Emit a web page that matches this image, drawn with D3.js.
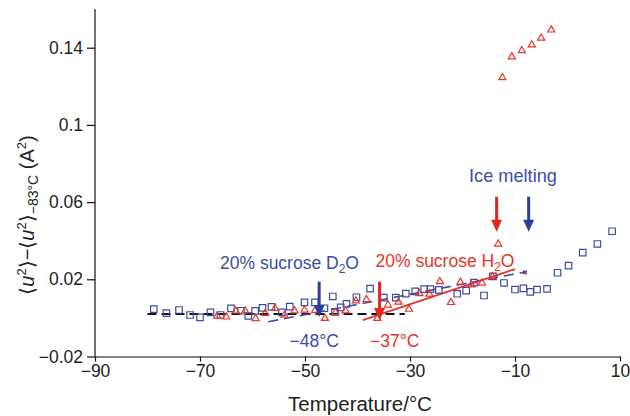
<!DOCTYPE html>
<html><head><meta charset="utf-8">
<script src="https://cdn.jsdelivr.net/npm/d3@7"></script>
<style>body{margin:0;background:#fff}svg{display:block}text{font-family:"Liberation Sans",Arial,sans-serif}</style>
</head><body>
<script>
// D2O (blue squares): temperature, value
const d2oTemp = [-78.8,-76.4,-74.0,-71.9,-70.0,-68.0,-66.1,-64.1,-62.2,-60.8,-59.5,-58.1,-56.4,-54.4,-52.9,-50.1,-48.1,-46.3,-44.7,-44.3,-43.2,-42.1,-40.2,-37.6,-35.0,-32.7,-30.8,-29.0,-27.3,-26.1,-24.5,-21.0,-19.3,-17.8,-15.9,-14.2,-12.1,-10.0,-8.4,-7.1,-5.8,-3.9,-1.9,0.2,2.9,5.7,8.5];
const d2oVal  = [0.0045,0.0025,0.0041,0.0015,0.0003,0.0029,0.0015,0.0049,0.0037,0.0010,0.0036,0.0052,0.0057,0.0029,0.0058,0.0080,0.0080,0.0050,0.0111,0.0031,0.0055,0.0073,0.0107,0.0152,0.0105,0.0105,0.0126,0.0137,0.0149,0.0149,0.0145,0.0125,0.0141,0.0183,0.0116,0.0215,0.0181,0.0147,0.0153,0.0135,0.0147,0.0150,0.0234,0.0271,0.0338,0.0383,0.0449];
// H2O (red triangles)
const h2oTemp = [-66.7,-65.0,-63.2,-61.4,-59.4,-57.6,-55.7,-53.9,-52.0,-50.1,-48.1,-46.2,-44.2,-42.3,-40.3,-38.3,-36.2,-34.2,-32.2,-30.2,-28.2,-26.3,-24.3,-22.2,-20.4,-18.3,-16.3,-14.3,-13.2,-12.4,-10.6,-8.7,-6.8,-5.0,-3.1];
const h2oVal  = [0.0010,0.0005,0.0036,0.0036,-0.0003,0.0024,0.0050,0.0015,0.0037,0.0041,0.0038,-0.0002,0.0028,0.0037,0.0088,0.0095,-0.0002,0.0067,0.0082,0.0045,0.0126,0.0123,0.0188,0.0080,0.0185,0.0171,0.0181,0.0214,0.0383,0.1245,0.1353,0.1385,0.1415,0.1450,0.1492];
// fit lines
const baseLine = [[-80,0.0020],[-31,0.0020]];
const d2oFit = [[-57.0,-0.0020],[-8.1,0.0238]];
const h2oFit = [[-39.0,-0.0011],[-10.0,0.0253]];
const purpleMark = [[-8.1,0.0236]];
// arrows: x, top, tip
const arrowX   = [-47.3,-35.8,-13.5,-7.4];
const arrowTop = [0.0188,0.0188,0.0628,0.0628];
const arrowTip = [0.0005,-0.0011,0.0447,0.0447];
const arrowCol = ["blue","red","red","blue"];
const xTicks = [-90,-70,-50,-30,-10,10];
const yTicks = [-0.02,0.02,0.06,0.1,0.14];

const W=630,H=416;
const BLUE="#3a4ea4", RED="#e6352b", DBLUE="#2c3f9c", DRED="#e3271f";
const svg=d3.select("body").append("svg").attr("width",W).attr("height",H);
const x=d3.scaleLinear().domain([-90,10]).range([95,620]);
const y=d3.scaleLinear().domain([-0.02,0.16]).range([356.5,9.1]);

// axes
const xa=svg.append("g").attr("transform",`translate(0,${y(-0.02)})`)
  .call(d3.axisBottom(x).tickValues(xTicks).tickFormat(d3.format("d")).tickSize(5).tickSizeOuter(0).tickPadding(3));
const ya=svg.append("g").attr("transform",`translate(${x(-90)},0)`)
  .call(d3.axisLeft(y).tickValues(yTicks).tickFormat(d3.format("~g")).tickSize(8).tickSizeOuter(0).tickPadding(4));
[xa,ya].forEach(g=>{g.selectAll("path,line").attr("stroke","#111").attr("stroke-width",1.2);
  g.selectAll("text").attr("font-size",17.5).attr("fill","#222").attr("font-family",'"Liberation Sans",Arial,sans-serif');});
ya.select(".domain").attr("d",`M0,${y(0.16)}V${y(-0.02)}`);

// axis titles
svg.append("text").attr("x",360).attr("y",411).attr("text-anchor","middle").attr("font-size",20.5).attr("fill","#222").text("Temperature/°C");
const yl=svg.append("text").attr("transform","translate(34,215) rotate(-90)").attr("text-anchor","middle").attr("font-size",20).attr("fill","#222");
yl.append("tspan").text("⟨");
yl.append("tspan").attr("font-style","italic").text("u");
yl.append("tspan").attr("font-size",13).attr("dy",-8).text("2");
yl.append("tspan").attr("dy",8).text("⟩−⟨");
yl.append("tspan").attr("font-style","italic").text("u");
yl.append("tspan").attr("font-size",13).attr("dy",-8).text("2");
yl.append("tspan").attr("dy",8).text("⟩");
yl.append("tspan").attr("font-size",14).attr("dy",4).text("−83°C");
yl.append("tspan").attr("dy",-4).text(" (A");
yl.append("tspan").attr("font-size",13).attr("dy",-8).text("2");
yl.append("tspan").attr("dy",8).text(")");

// lines
const line=d3.line().x(d=>x(d[0])).y(d=>y(d[1]));
svg.append("path").attr("d",line(baseLine)).attr("stroke","#111").attr("stroke-width",2).attr("stroke-dasharray","9,5").attr("fill","none");
svg.append("path").attr("d",line(d2oFit)).attr("stroke",BLUE).attr("stroke-width",1.6).attr("stroke-dasharray","10,6").attr("fill","none");
svg.append("path").attr("d",line(h2oFit)).attr("stroke",RED).attr("stroke-width",1.8).attr("fill","none");

// markers
const sq=d3.symbol().type(d3.symbolSquare).size(42);
svg.append("g").selectAll("path").data(d2oTemp.map((t,i)=>[t,d2oVal[i]])).join("path")
  .attr("d",sq).attr("transform",d=>`translate(${x(d[0])},${y(d[1])})`)
  .attr("fill","none").attr("stroke",BLUE).attr("stroke-width",1.2);
const tr=d3.symbol().type(d3.symbolTriangle).size(22);
svg.append("g").selectAll("path").data(h2oTemp.map((t,i)=>[t,h2oVal[i]])).join("path")
  .attr("d",tr).attr("transform",d=>`translate(${x(d[0])},${y(d[1])})`)
  .attr("fill","none").attr("stroke",RED).attr("stroke-width",1.2);
svg.append("g").selectAll("path").data(purpleMark).join("path")
  .attr("d",d3.symbol().type(d3.symbolCross).size(14)).attr("transform",d=>`translate(${x(d[0])},${y(d[1])}) rotate(45)`)
  .attr("fill","#8a2c8c");

// arrows
arrowX.forEach((ax,i)=>{
  const c=arrowCol[i]==="blue"?DBLUE:DRED;
  const px=x(ax), t=y(arrowTop[i]), tip=y(arrowTip[i]);
  const hl=12, hw=5.5;
  svg.append("line").attr("x1",px).attr("x2",px).attr("y1",t).attr("y2",tip-hl+2).attr("stroke",c).attr("stroke-width",3);
  svg.append("path").attr("d",`M${px-hw},${tip-hl}L${px+hw},${tip-hl}L${px},${tip}Z`).attr("fill",c);
});

// labels
function lab(tx,ty,col,parts,fs){
  const t=svg.append("text").attr("x",tx).attr("y",ty).attr("fill",col).attr("font-size",fs||17.5);
  parts.forEach(p=>{const s=t.append("tspan").text(p[0]); if(p[1]!==undefined) s.attr("dy",p[1]); if(p[2]) s.attr("font-size",p[2]);});
}
lab(469,181.7,BLUE,[["Ice melting"]],18.2);
lab(220,268.5,BLUE,[["20% sucrose D"],["2",4,12],["O",-4]]);
lab(375.5,266.7,RED,[["20% sucrose H"],["2",4,12],["O",-4]]);
lab(289.5,346.7,BLUE,[["−48°C"]]);
lab(370,346.7,RED,[["−37°C"]]);
</script>
</body></html>
